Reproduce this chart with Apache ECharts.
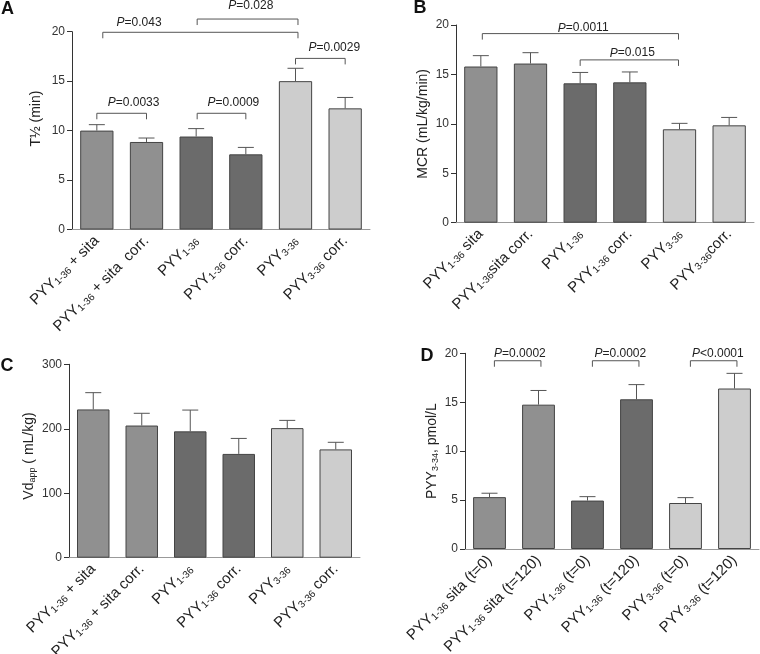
<!DOCTYPE html>
<html>
<head>
<meta charset="utf-8">
<title>PYY kinetics</title>
<script src="https://cdn.jsdelivr.net/npm/echarts@6/dist/echarts.min.js"></script>
<style>
  html, body { margin: 0; padding: 0; background: #fff; }
  #chart { width: 760px; height: 654px; }
</style>
</head>
<body>
<div id="chart"></div>
<script>
// category labels, {s|..} = subscript
const catsA = ['PYY{s|1-36} + sita', 'PYY{s|1-36} + sita  corr.', 'PYY{s|1-36}', 'PYY{s|1-36} corr.', 'PYY{s|3-36}', 'PYY{s|3-36} corr.']
const catsB = ['PYY{s|1-36} sita', 'PYY{s|1-36}sita corr.', 'PYY{s|1-36}', 'PYY{s|1-36} corr.', 'PYY{s|3-36}', 'PYY{s|3-36}corr.']
const catsC = ['PYY{s|1-36} + sita', 'PYY{s|1-36} + sita corr.', 'PYY{s|1-36}', 'PYY{s|1-36} corr.', 'PYY{s|3-36}', 'PYY{s|3-36} corr.']
const catsD = ['PYY{s|1-36} sita (t=0)', 'PYY{s|1-36} sita (t=120)', 'PYY{s|1-36} (t=0)', 'PYY{s|1-36} (t=120)', 'PYY{s|3-36} (t=0)', 'PYY{s|3-36} (t=120)']

// means and SEM
const halfLife = [10.0, 8.85, 9.4, 7.6, 15.0, 12.25]
const halfLifeSem = [0.6, 0.4, 0.8, 0.7, 1.3, 1.1]
const mcr = [15.8, 16.1, 14.1, 14.2, 9.45, 9.85]
const mcrSem = [1.1, 1.1, 1.1, 1.05, 0.6, 0.8]
const vd = [230, 205, 196, 161, 201, 168]
const vdSem = [26, 19, 33, 24, 12, 11]
const pyy334 = [5.3, 14.75, 4.95, 15.3, 4.7, 16.4]
const pyy334Sem = [0.4, 1.45, 0.4, 1.5, 0.55, 1.55]

// significance brackets: [from, to, lineY, labelPos, labelY, text]
const bracketsA = [
  [0.12, 4.05, 19.94, 0.85, 20.9, '=0.043'],
  [2.02, 4.05, 21.28, 3.1, 22.6, '=0.028'],
  [4.0, 5.0, 17.3, 4.78, 18.38, '=0.0029'],
  [0.0, 1.0, 11.75, 0.74, 12.82, '=0.0033'],
  [2.02, 3.0, 11.75, 2.75, 12.82, '=0.0009']
]
const bracketsB = [
  [0.03, 3.98, 19.13, 2.06, 19.68, '=0.0011'],
  [2.0, 3.98, 16.47, 3.05, 17.15, '=0.015']
]
const bracketsD = [
  [0.1, 1.05, 19.24, 0.62, 20.0, '=0.0002'],
  [2.1, 3.05, 19.24, 2.67, 20.0, '=0.0002'],
  [4.1, 5.05, 19.24, 4.66, 20.0, '<0.0001']
]

const FONT = 'Liberation Sans'
const barColors = ['#909090', '#909090', '#6b6b6b', '#6b6b6b', '#cdcdcd', '#cdcdcd']
const subRich = {
  s: { fontSize: 10, fontFamily: FONT, color: '#222', padding: [6, 0, 0, 0] }
}

function renderErr (params, api) {
  const x = api.value(0)
  const base = api.coord([x, api.value(1)])
  const top = api.coord([x, api.value(2)])
  const cap = 8
  const st = { stroke: '#555', lineWidth: 1 }
  return {
    type: 'group',
    children: [
      { type: 'line', shape: { x1: base[0], y1: base[1], x2: top[0], y2: top[1] }, style: st },
      { type: 'line', shape: { x1: top[0] - cap, y1: top[1], x2: top[0] + cap, y2: top[1] }, style: st }
    ]
  }
}

function bracketRenderer (list) {
  return function (params, api) {
    const b = list[params.dataIndex]
    const p0 = api.coord([0, b[2]])
    const p1 = api.coord([1, b[2]])
    const step = p1[0] - p0[0]
    const xa = p0[0] + b[0] * step
    const xb = p0[0] + b[1] * step
    const y = p0[1]
    const ly = api.coord([0, b[4]])[1]
    const lx = p0[0] + b[3] * step
    return {
      type: 'group',
      children: [
        {
          type: 'polyline',
          shape: { points: [[xa, y + 6], [xa, y], [xb, y], [xb, y + 6]] },
          style: { stroke: '#555', fill: null, lineWidth: 1 }
        },
        {
          type: 'text',
          style: {
            text: '{i|P}' + b[5],
            x: lx,
            y: ly,
            align: 'center',
            verticalAlign: 'middle',
            fill: '#222',
            fontSize: 12,
            fontFamily: FONT,
            rich: { i: { fontStyle: 'italic', fontSize: 12, fontFamily: FONT, fill: '#222' } }
          }
        }
      ]
    }
  }
}

// fixed plot areas, labels allowed to run outside
const grids = [
  { left: 72, top: 31.7, width: 298, height: 197.8, outerBoundsMode: 'none', containLabel: false },
  { left: 456, top: 25, width: 298, height: 197.7, outerBoundsMode: 'none', containLabel: false },
  { left: 69, top: 364.3, width: 291, height: 193.4, outerBoundsMode: 'none', containLabel: false },
  { left: 465, top: 353.3, width: 294, height: 195.7, outerBoundsMode: 'none', containLabel: false }
]

const panels = [
  { cats: catsA, vals: halfLife, sem: halfLifeSem, br: bracketsA, max: 20, step: 5, name: 'T½ (min)', gap: 29, namePad: [0, 0, 0, 24] },
  { cats: catsB, vals: mcr, sem: mcrSem, br: bracketsB, max: 20, step: 5, name: 'MCR (mL/kg/min)', gap: 26, namePad: 0 },
  { cats: catsC, vals: vd, sem: vdSem, br: [], max: 300, step: 100, name: 'Vd{s|app} ( mL/kg)', gap: 32, namePad: [0, 0, 0, 10] },
  { cats: catsD, vals: pyy334, sem: pyy334Sem, br: bracketsD, max: 20, step: 5, name: 'PYY{s|3-34}, pmol/L', gap: 25, namePad: 0 }
]

const xAxes = []
const yAxes = []
const series = []

panels.forEach(function (p, i) {
  xAxes.push({
    type: 'category',
    gridIndex: i,
    data: p.cats,
    axisLine: { lineStyle: { color: '#999' } },
    axisTick: { alignWithLabel: true, length: 5, lineStyle: { color: '#999' } },
    axisLabel: {
      interval: 0,
      rotate: 45,
      margin: 9,
      fontSize: 15,
      fontFamily: FONT,
      color: '#222',
      rich: subRich
    }
  })
  yAxes.push({
    type: 'value',
    gridIndex: i,
    min: 0,
    max: p.max,
    interval: p.step,
    splitLine: { show: false },
    axisLine: { show: true, lineStyle: { color: '#333' } },
    axisTick: { show: true, length: 5, lineStyle: { color: '#333' } },
    axisLabel: { fontSize: 12, fontFamily: FONT, color: '#333', margin: 7 },
    name: p.name,
    nameLocation: 'middle',
    nameGap: p.gap,
    nameTextStyle: {
      fontSize: 14,
      fontFamily: FONT,
      color: '#222',
      padding: p.namePad,
      rich: { s: { fontSize: 9, fontFamily: FONT, color: '#222', padding: [6, 0, 0, 0] } }
    }
  })
  series.push({
    type: 'bar',
    xAxisIndex: i,
    yAxisIndex: i,
    barWidth: '67%',
    silent: true,
    data: p.vals.map(function (v, k) {
      return { value: v, itemStyle: { color: barColors[k], borderColor: '#444', borderWidth: 1 } }
    })
  })
  series.push({
    type: 'custom',
    xAxisIndex: i,
    yAxisIndex: i,
    silent: true,
    z: 3,
    renderItem: renderErr,
    encode: { x: 0, y: [1, 2] },
    data: p.vals.map(function (v, k) { return [k, v, v + p.sem[k]] })
  })
  if (p.br.length) {
    series.push({
      type: 'custom',
      xAxisIndex: i,
      yAxisIndex: i,
      silent: true,
      z: 4,
      renderItem: bracketRenderer(p.br),
      encode: { x: 0, y: 1 },
      data: p.br.map(function (b) { return [Math.round(b[0]), b[2]] })
    })
  }
})

const letters = [['A', 7.5, 9.5], ['B', 420, 8.5], ['C', 7, 366], ['D', 427, 356]]

const chart = echarts.init(document.getElementById('chart'))
chart.setOption({
  animation: false,
  backgroundColor: '#fff',
  grid: grids,
  xAxis: xAxes,
  yAxis: yAxes,
  series: series,
  graphic: letters.map(function (l) {
    return {
      type: 'text',
      x: l[1],
      y: l[2],
      style: { text: l[0], fill: '#111', font: 'bold 18px ' + FONT, align: 'center', verticalAlign: 'middle' }
    }
  })
})
</script>
</body>
</html>
